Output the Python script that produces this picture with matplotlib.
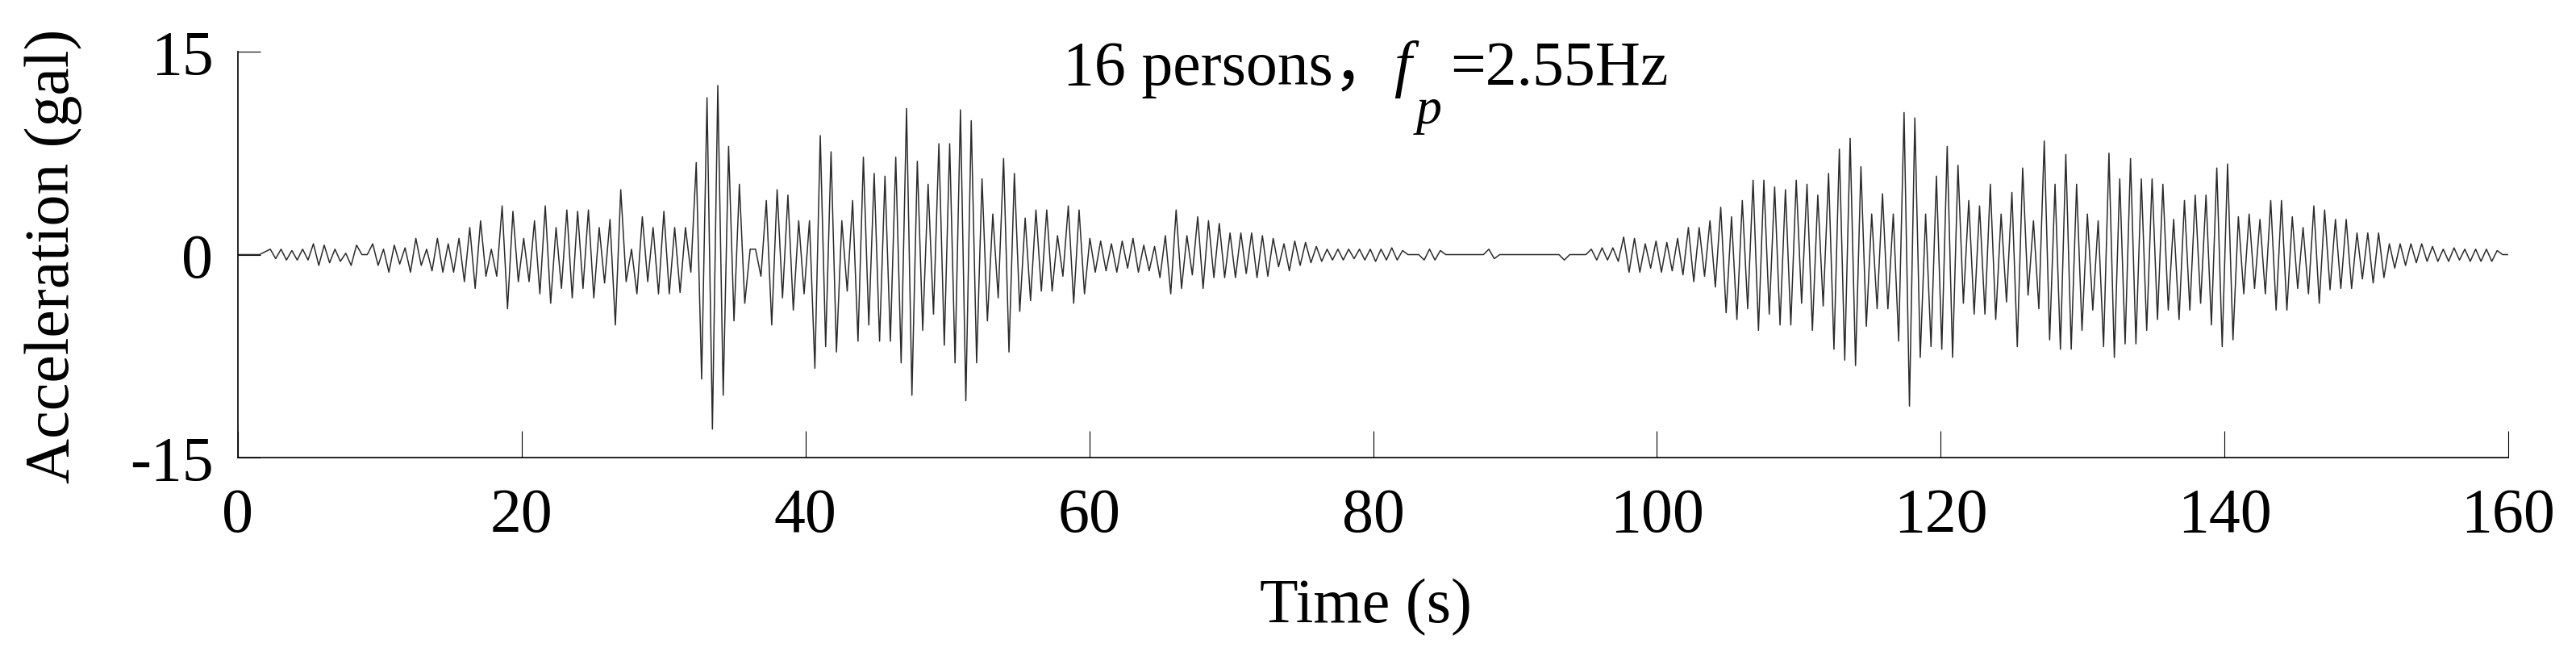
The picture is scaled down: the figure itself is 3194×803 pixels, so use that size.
import numpy as np
import matplotlib
matplotlib.use("Agg")
import matplotlib.pyplot as plt

plt.rcParams['font.family'] = ['Liberation Serif', 'Noto Sans CJK SC']
plt.rcParams['axes.unicode_minus'] = False

DT = 0.38

# 0 - 86.6 s : first walking burst
burst_1 = [
    0, 0, 0, 0, 0, 0.2,
    0.4, -0.3, 0.4, -0.4, 0.3, -0.4,
    0.4, -0.4, 0.8, -0.8, 0.7, -0.6,
    0.4, -0.5, 0.1, -0.8, 0.7, 0.0,
    0.0, 0.8, -0.8, 0.4, -1.3, 0.7,
    -0.7, 0.5, -1.3, 1.2, -0.8, 0.4,
    -1.2, 1.2, -1.3, 0.8, -1.3, 1.2,
    -2.0, 2.0, -2.5, 2.5, -1.6, 0.4,
    -1.6, 3.6, -4.0, 3.2, -2.0, 1.2,
    -2.0, 2.5, -2.9, 3.6, -3.6, 2.0,
    -2.5, 3.3, -3.2, 3.2, -2.5, 3.3,
    -3.2, 2.0, -2.1, 2.6, -5.2, 4.8,
    -2.0, 0.4, -2.9, 2.8, -2.0, 2.0,
    -2.9, 3.2, -2.9, 2.0, -2.8, 2.0,
    -1.3, 6.8, -9.2, 11.6, -12.9, 12.5,
    -10.4, 8.0, -4.9, 5.2, -3.6, 0.4,
    0.4, -1.6, 4.0, -5.2, 4.8, -3.2,
    4.4, -4.1, 2.5, -2.9, 2.5, -8.4,
    8.8, -6.8, 7.6, -7.2, 2.5, -2.7,
    4.0, -6.4, 7.2, -5.2, 6.0, -6.4,
    5.8, -6.4, 7.2, -8.0, 10.8, -10.4,
    6.9, -5.6, 5.2, -4.4, 8.2, -6.7,
    8.2, -8.0, 10.7, -10.8, 9.9, -8.0,
    5.6, -4.9, 3.0, -3.2, 7.1, -7.2,
    6.0, -4.2, 2.7, -3.4, 3.3, -2.7,
    3.3, -2.7, 1.4, -1.6, 3.6, -3.6,
    3.3, -2.9, 1.2, -1.3, 1.0, -1.2,
    0.8, -1.3, 1.0, -1.0, 1.2, -1.3,
    0.7, -1.2, 0.6, -1.7, 1.4, -2.9,
    3.3, -2.5, 1.4, -1.5, 2.8, -2.5,
    2.5, -1.7, 2.3, -1.7, 1.6, -1.7,
    1.6, -1.4, 1.6, -1.7, 1.4, -1.6,
    1.2, -0.9, 0.8, -1.2, 1.0, -0.8,
    0.9, -0.6, 0.6, -0.5, 0.4, -0.4,
    0.4, -0.4, 0.4, -0.3, 0.4, -0.4,
    0.4, -0.5, 0.4, -0.4, 0.5, -0.4,
    0.3, 0.0, 0.0, 0.0, -0.4, 0.4,
    -0.4, 0.3, 0.0, 0.0, 0.0, 0.0,
]

# 86.6 - 95.8 s : pause between the two bursts
pause = [
    0, 0, 0, 0, 0.4, -0.3,
    0, 0, 0, 0, 0, 0,
    0, 0, 0, 0, 0, 0,
    -0.4, 0, 0, 0, 0, 0.4,
]

# 95.8 - 160 s : second walking burst
burst_2 = [
    -0.4, 0.5, -0.4, 0.5, -0.5, 1.3,
    -1.3, 1.2, -1.3, 0.8, -1.0, 1.0,
    -1.3, 0.9, -1.2, 1.2, -1.5, 2.0,
    -2.0, 2.0, -1.6, 2.5, -2.4, 3.5,
    -4.3, 2.8, -4.8, 4.0, -4.0, 5.5,
    -5.6, 5.5, -4.4, 5.0, -5.2, 4.8,
    -5.2, 5.5, -3.6, 5.2, -5.6, 4.4,
    -3.8, 6.0, -7.0, 7.8, -7.8, 8.6,
    -8.2, 6.5, -5.3, 3.0, -4.0, 4.5,
    -4.0, 3.0, -6.4, 10.5, -11.2, 10.1,
    -7.6, 3.0, -6.8, 5.8, -7.0, 8.0,
    -7.6, 6.6, -3.6, 4.0, -4.4, 3.6,
    -4.4, 5.2, -4.8, 3.0, -3.5, 4.6,
    -6.8, 6.4, -3.0, 2.5, -4.0, 8.4,
    -6.3, 5.2, -7.0, 7.4, -7.0, 5.2,
    -5.6, 3.0, -4.1, 2.5, -6.8, 7.5,
    -7.6, 5.6, -6.6, 7.1, -6.6, 5.6,
    -5.6, 5.6, -4.8, 5.2, -4.1, 2.6,
    -4.8, 4.0, -4.1, 4.4, -3.6, 4.4,
    -5.2, 6.4, -6.8, 6.7, -6.3, 2.8,
    -2.9, 3.0, -2.5, 2.6, -2.9, 4.0,
    -4.1, 4.0, -4.1, 2.8, -2.5, 2.0,
    -2.9, 3.6, -3.6, 3.3, -2.6, 2.6,
    -2.5, 2.6, -2.5, 1.6, -1.8, 1.6,
    -2.1, 1.6, -1.7, 0.8, -1.0, 0.8,
    -0.8, 0.8, -0.6, 0.8, -0.5, 0.6,
    -0.5, 0.4, -0.5, 0.5, -0.4, 0.4,
    -0.5, 0.4, -0.5, 0.4, -0.5, 0.3,
    0.0, 0.0,
]

x_ticks = [0, 20, 40, 60, 80, 100, 120, 140, 160]
y_ticks = [-15, 0, 15]
y_ticklabels = ['-15', '0', '15']

acc = np.array(burst_1 + pause + burst_2)
t = np.arange(len(acc)) * DT

W, H = 3194, 804
fig = plt.figure(figsize=(W / 100, H / 100), dpi=100)
ax = fig.add_axes([295 / W, 1 - 568 / H, (3110 - 295) / W, (568 - 65) / H])

ax.plot(t, acc, color='#2b2b2b', lw=1.1)

ax.set_xlim(0, 160)
ax.set_ylim(-15, 15)
ax.set_xticks(x_ticks)
ax.set_yticks(y_ticks)
ax.set_yticklabels(y_ticklabels)
for s in ['top', 'right']:
    ax.spines[s].set_visible(False)
for s in ['left', 'bottom']:
    ax.spines[s].set_linewidth(1.2)
ax.tick_params(axis='x', direction='in', length=24, width=0.8, pad=26, labelsize=56)
ax.tick_params(axis='y', direction='in', length=20, width=0.8, pad=22, labelsize=56)

# axis titles
fig.text(66 / W, 1 - 317 / H, 'Acceleration (gal)', rotation=90,
         ha='center', va='center', fontsize=56)
fig.text(1693 / W, 1 - 753 / H, 'Time (s)', ha='center', va='center', fontsize=56)

# panel title: 16 persons，f_p=2.55Hz
fig.text(1318 / W, 1 - 105 / H, '16 persons，', ha='left', va='baseline', fontsize=56)
fig.text(1728 / W, 1 - 105 / H, 'f', ha='left', va='baseline', fontsize=56, style='italic')
fig.text(1756 / W, 1 - 153 / H, 'p', ha='left', va='baseline', fontsize=46, style='italic')
fig.text(1798 / W, 1 - 105 / H, '=2.55Hz', ha='left', va='baseline', fontsize=56)

fig.savefig('out.png', dpi=100)
